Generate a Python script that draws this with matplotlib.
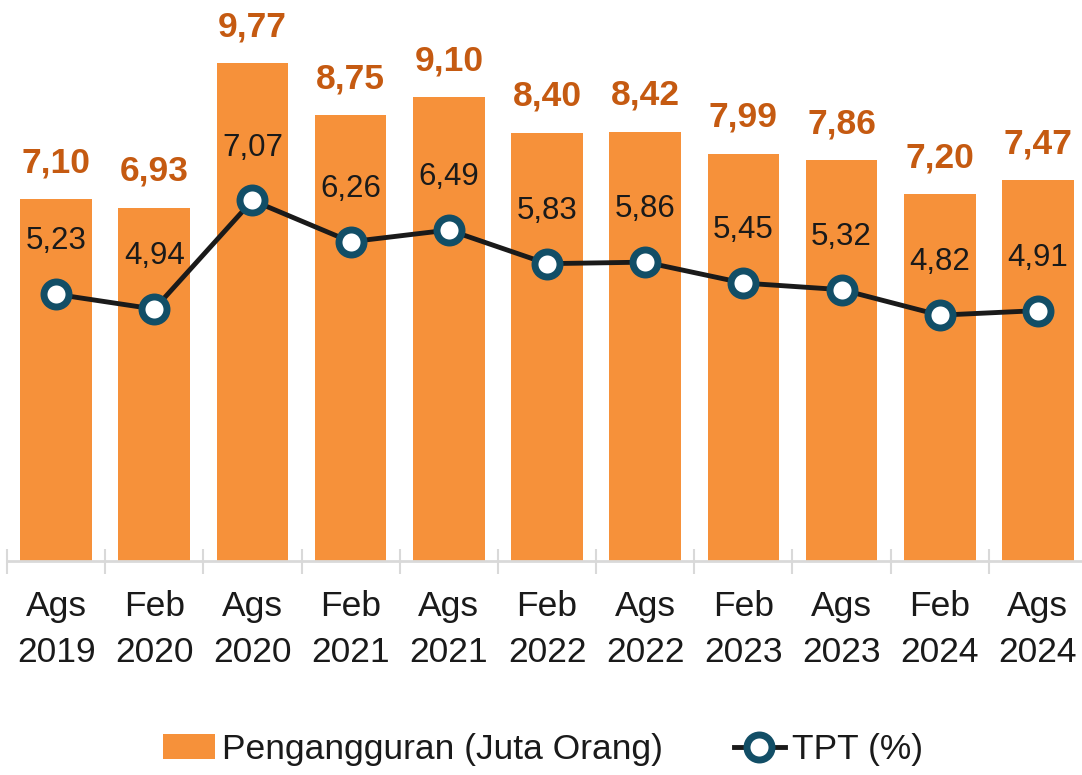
import matplotlib.pyplot as plt
from matplotlib.ticker import FixedLocator

plt.rcParams['font.family'] = ['Liberation Sans Narrow', 'Liberation Sans', 'DejaVu Sans']

# data
periods = ['Ags\n2019', 'Feb\n2020', 'Ags\n2020', 'Feb\n2021', 'Ags\n2021', 'Feb\n2022',
           'Ags\n2022', 'Feb\n2023', 'Ags\n2023', 'Feb\n2024', 'Ags\n2024']
pengangguran = [7.10, 6.93, 9.77, 8.75, 9.10, 8.40, 8.42, 7.99, 7.86, 7.20, 7.47]
tpt = [5.23, 4.94, 7.07, 6.26, 6.49, 5.83, 5.86, 5.45, 5.32, 4.82, 4.91]

def fmt(v):
    return f'{v:.2f}'.replace('.', ',')

fig = plt.figure(figsize=(10.82, 7.75), dpi=100)
ax = fig.add_axes([7 / 1082, 214 / 775, 1080 / 1082, 561 / 775])
x = list(range(len(periods)))

bars = ax.bar(x, pengangguran, width=0.73, color='#F6913A', zorder=1,
              label='Pengangguran (Juta Orang)')
line, = ax.plot(x, tpt, color='#1a1a1a', lw=3.5, marker='o', ms=18,
                mfc='white', mec='#124E66', mew=5, zorder=3, label='TPT (%)')

for xi, v in zip(x, pengangguran):
    ax.annotate(fmt(v), (xi, v), xytext=(0, 26), textcoords='offset points',
                ha='center', va='center', fontsize=25.5, fontweight='bold', color='#C55A11')
for xi, v in zip(x, tpt):
    ax.annotate(fmt(v), (xi, v), xytext=(0, 38), textcoords='offset points',
                ha='center', va='center', fontsize=22.5, color='#1a1a1a')

ax.set_xlim(-0.5, len(periods) - 0.5)
ax.set_ylim(0, 11)
ax.set_xticks(x)
ax.set_xticklabels(periods, fontsize=25.5, color='#1a1a1a', linespacing=1.5)
ax.xaxis.set_minor_locator(FixedLocator([i - 0.5 for i in range(len(periods) + 1)]))
ax.tick_params(axis='x', which='major', length=0, pad=21)
ax.tick_params(axis='x', which='minor', direction='inout', length=18, width=1.5, color='#D9D9D9')
ax.set_yticks([])
for s in ['top', 'right', 'left']:
    ax.spines[s].set_visible(False)
ax.spines['bottom'].set_color('#D9D9D9')
ax.spines['bottom'].set_linewidth(2)

fig.legend(handles=[bars, line], loc='center', bbox_to_anchor=(0.502, 0.033), ncol=2,
           frameon=False, fontsize=25.5, handlelength=1.45, handletextpad=0.2,
           columnspacing=2.0, labelcolor='#1a1a1a')

fig.savefig('out.png', dpi=100)
